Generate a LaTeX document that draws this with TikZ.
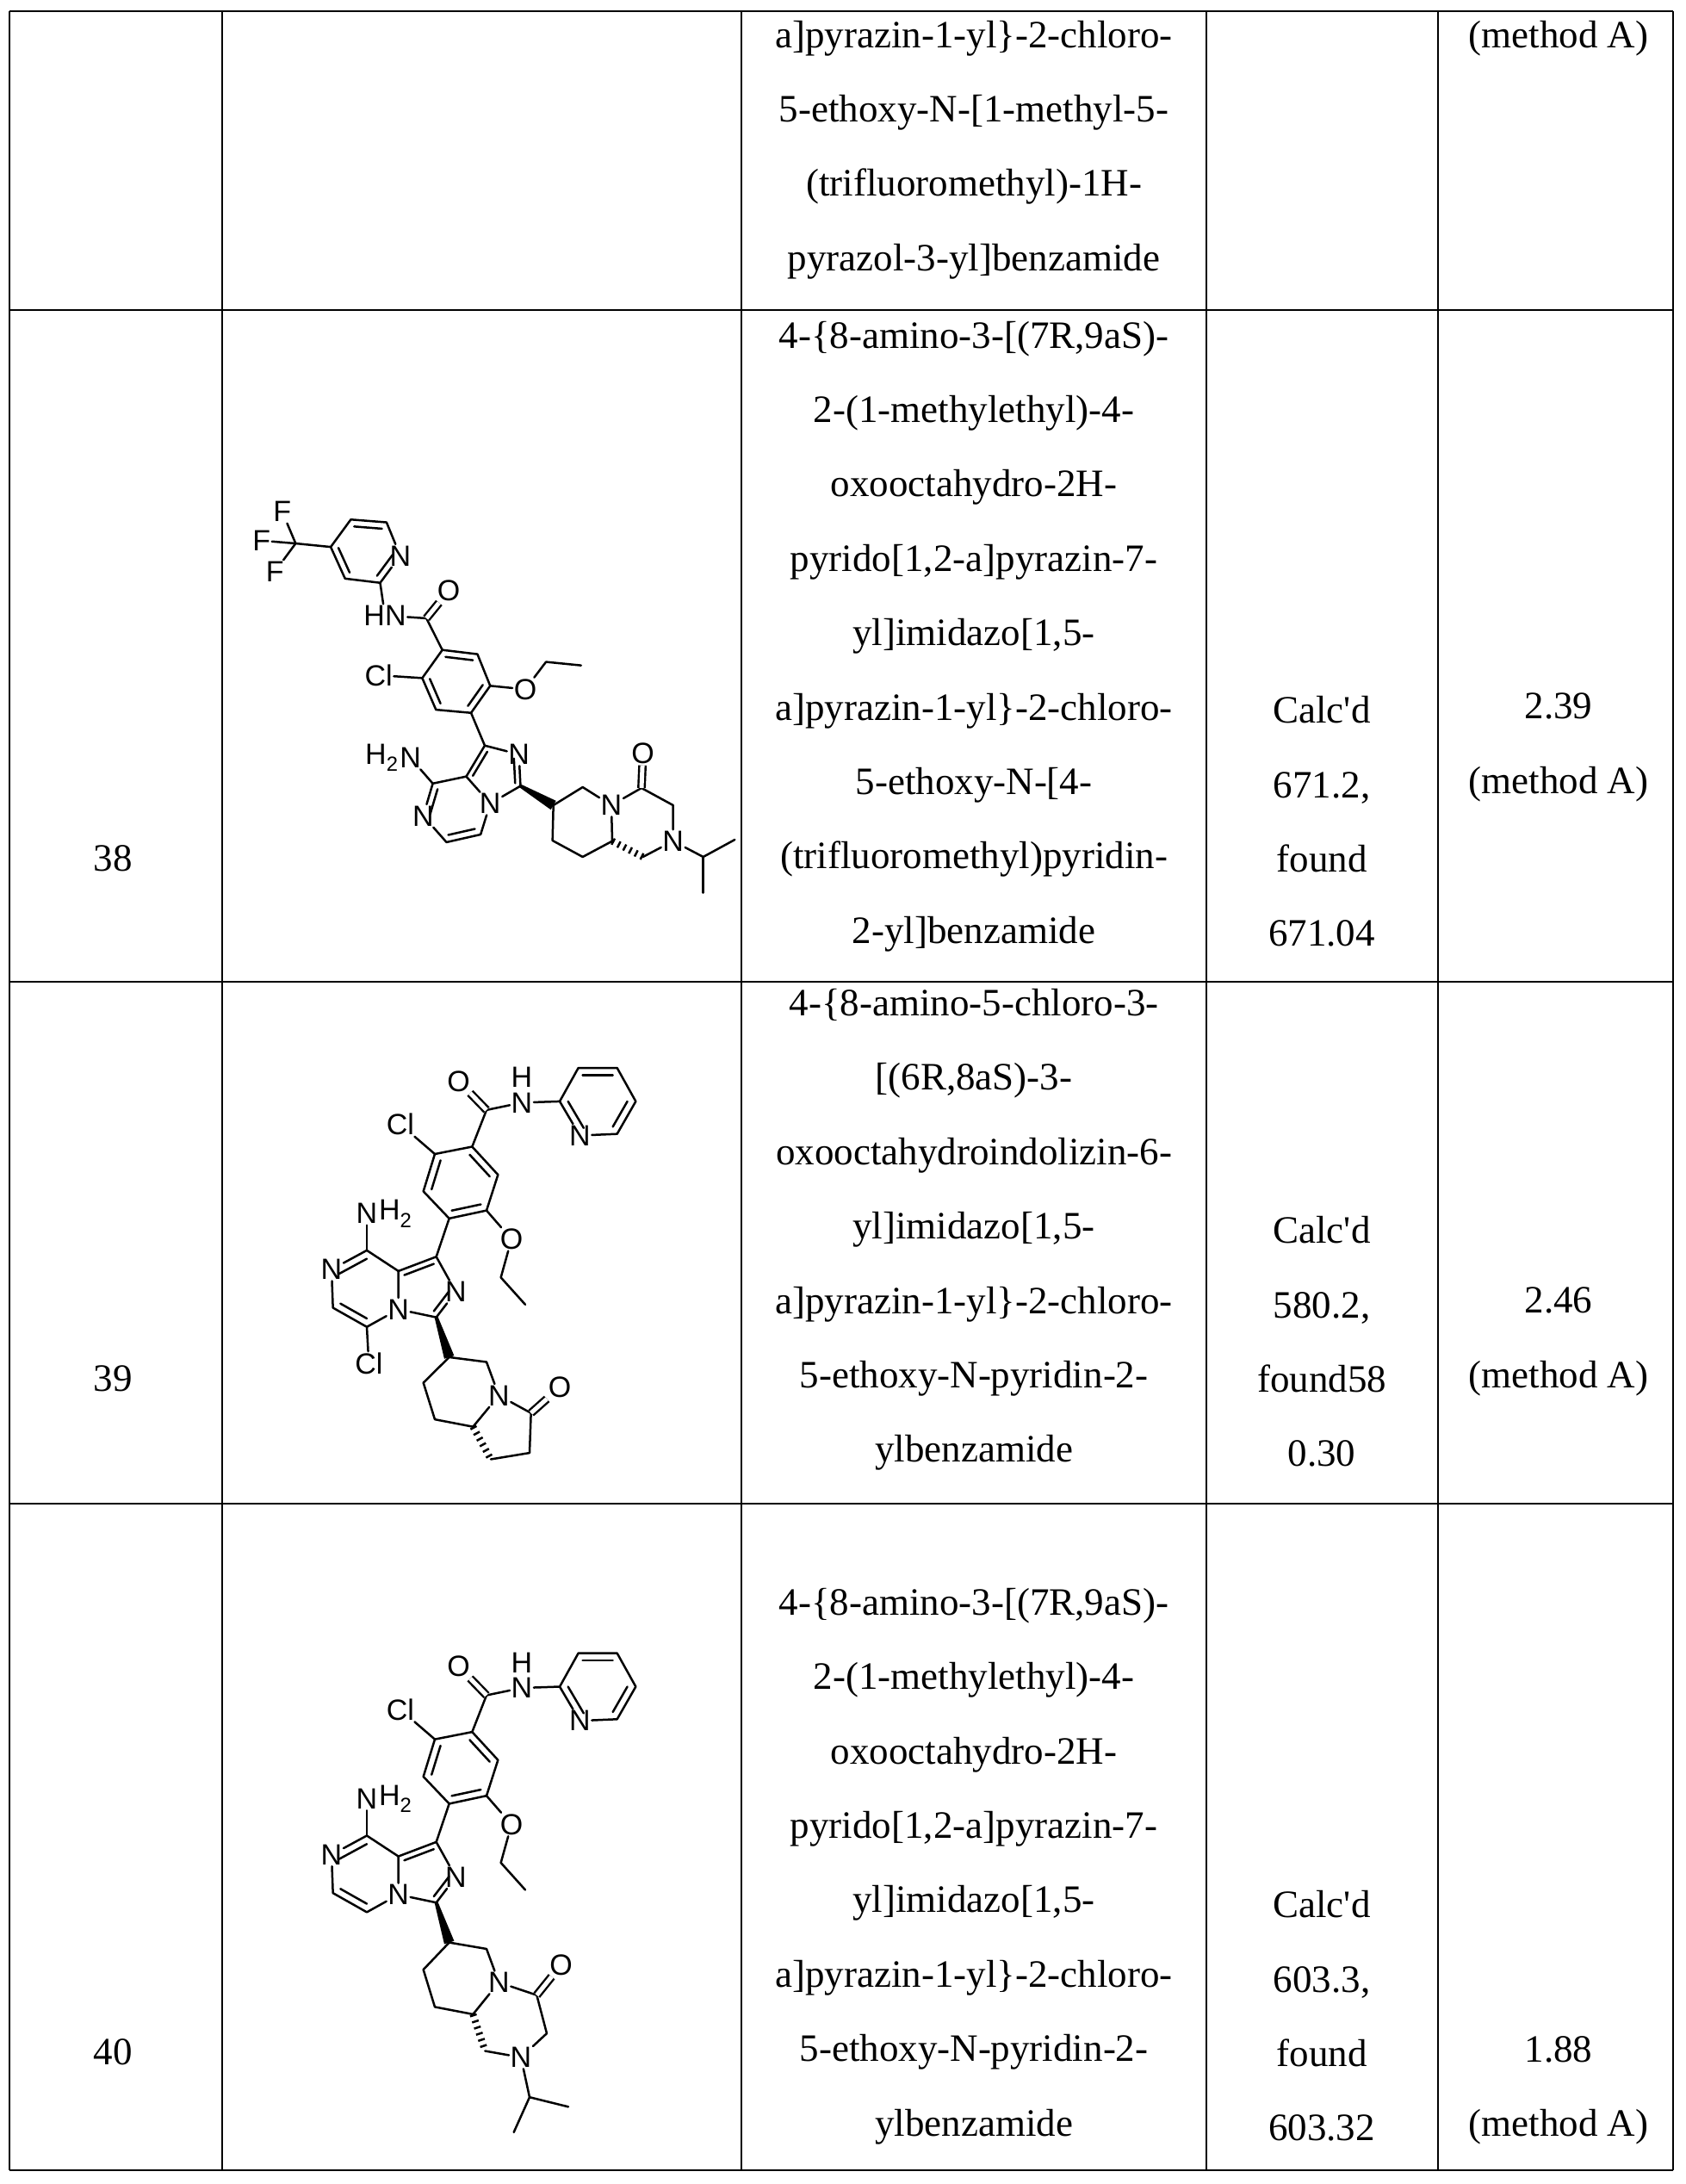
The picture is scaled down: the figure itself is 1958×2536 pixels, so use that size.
\documentclass[tikz,border=0pt]{standalone}
\usepackage{fontspec}
\setmainfont{Liberation Serif}
\newfontfamily\atomfont{Liberation Sans}
\usetikzlibrary{calc}

\tikzset{
  bond/.style={line width=2.5pt, line cap=round, line join=round},
  atom/.style={font=\fontsize{34}{34}\selectfont\atomfont, inner sep=1.5pt},
  dbl/.style={double, double distance=5pt, line width=2.4pt},
  cell/.style={font=\fontsize{45}{86.4}\selectfont, align=center},
  grid/.style={line width=2.6pt}
}
\newcommand\apos{\textquotesingle}
% inner line of a ring double bond
\newcommand\inb[3]{\draw[bond] ($(#1)!0.22!(#3)$) -- ($(#2)!0.22!(#3)$);}
\newcommand\wedgebond[2]{\fill ($(#1)!2pt!90:(#2)$) -- ($(#2)!6pt!-90:(#1)$) -- ($(#2)!6pt!90:(#1)$) -- ($(#1)!2pt!-90:(#2)$) -- cycle;}
% common part of 39 and 40
\newcommand\benzcore[1]{
  \coordinate (#1q1) at (990,348); \coordinate (#1q2) at (1055,243);
  \coordinate (#1q3) at (1190,243); \coordinate (#1q4) at (1255,348);
  \coordinate (#1q5) at (1190,450); \node[atom] (#1qn) at (1060,455) {N};
  \coordinate (#1qc) at (1122,348);
  \node[atom] (#1nh) at (858,352) {N}; \node[atom] at (858,272) {H};
  \coordinate (#1co) at (735,375); \node[atom] (#1o) at (638,285) {O};
  \coordinate (#1b1) at (685,490); \coordinate (#1b2) at (775,578);
  \coordinate (#1b3) at (735,690); \coordinate (#1b4) at (605,715);
  \coordinate (#1b5) at (515,630); \coordinate (#1b6) at (555,513);
  \coordinate (#1bc) at (645,603);
  \node[atom] (#1cl) at (435,420) {Cl};
  \node[atom] (#1oe) at (822,780) {O};
  \coordinate (#1e1) at (785,900); \coordinate (#1e2) at (870,985);
  \coordinate (#1c1) at (560,835); \node[atom] (#1n2) at (628,945) {N};
  \coordinate (#1c3) at (560,1025); \node[atom] (#1n4) at (428,1000) {N};
  \coordinate (#1c8a) at (428,880); \coordinate (#1ic) at (521,937);
  \coordinate (#1c8) at (318,815); \node[atom] (#1n7) at (195,875) {N};
  \coordinate (#1c6) at (200,995); \coordinate (#1c5) at (318,1055);
  \coordinate (#1pc) at (318,935);
  \node[atom] (#1nh2) at (318,700) {N};
  \node[atom, anchor=west, inner sep=0pt] at (#1nh2.east) {H\textsubscript{2}};
  \draw[bond] (#1nh) -- (#1q1) -- (#1q2) -- (#1q3) -- (#1q4) -- (#1q5) -- (#1qn) -- (#1q1);
  \inb{#1q2}{#1q3}{#1qc} \inb{#1q4}{#1q5}{#1qc} \inb{#1q1}{#1qn}{#1qc}
  \draw[bond] (#1nh) -- (#1co) -- (#1b1);
  \draw[dbl] (#1co) -- (#1o);
  \draw[bond] (#1b1) -- (#1b2) -- (#1b3) -- (#1b4) -- (#1b5) -- (#1b6) -- cycle;
  \inb{#1b1}{#1b2}{#1bc} \inb{#1b3}{#1b4}{#1bc} \inb{#1b5}{#1b6}{#1bc}
  \draw[bond] (#1b6) -- (#1cl);
  \draw[bond] (#1b3) -- (#1oe) -- (#1e1) -- (#1e2);
  \draw[bond] (#1b4) -- (#1c1) -- (#1n2) -- (#1c3) -- (#1n4) -- (#1c8a) -- (#1c1);
  \inb{#1c1}{#1c8a}{#1ic} \inb{#1n2}{#1c3}{#1ic}
  \draw[bond] (#1c8a) -- (#1c8) -- (#1n7) -- (#1c6) -- (#1c5) -- (#1n4);
  \inb{#1c8}{#1n7}{#1pc} \inb{#1c6}{#1c5}{#1pc}
  \draw[bond] (#1c8) -- (#1nh2);
}

\begin{document}
\begin{tikzpicture}[x=1pt, y=-1pt]
	\useasboundingbox (0,0) rectangle (1958,2536);
	
	% table rules
	\foreach \x in {11,258,861,1401,1670,1943}
		\draw[grid] (\x,13) -- (\x,2520);
	\foreach \y in {13,360,1140,1746,2520}
		\draw[grid] (11,\y) -- (1943,\y);
	
	% row carried over
	\node[cell] (name0) at (1131,174) {a]pyrazin-1-yl\}-2-chloro-\\5-ethoxy-N-[1-methyl-5-\\(trifluoromethyl)-1H-\\pyrazol-3-yl]benzamide};
	\node[cell] (rt0) at (1810,45) {(method A)};
	
	% row 38
	\node[cell] (no38) at (131,997) {38};
	\node[cell] (name38) at (1131,739) {4-\{8-amino-3-[(7R,9aS)-\\2-(1-methylethyl)-4-\\oxooctahydro-2H-\\pyrido[1,2-a]pyrazin-7-\\yl]imidazo[1,5-\\a]pyrazin-1-yl\}-2-chloro-\\5-ethoxy-N-[4-\\(trifluoromethyl)pyridin-\\2-yl]benzamide};
	\node[cell] (ms38) at (1535,954) {Calc\apos d\\671.2,\\found\\671.04};
	\node[cell] (rt38) at (1810,868) {2.39\\(method A)};
	
	% row 39
	\node[cell] (no39) at (131,1601) {39};
	\node[cell] (name39) at (1131,1428) {4-\{8-amino-5-chloro-3-\\{[}(6R,8aS)-3-\\oxooctahydroindolizin-6-\\yl]imidazo[1,5-\\a]pyrazin-1-yl\}-2-chloro-\\5-ethoxy-N-pyridin-2-\\ylbenzamide};
	\node[cell] (ms39) at (1535,1558) {Calc\apos d\\580.2,\\found58\\0.30};
	\node[cell] (rt39) at (1810,1558) {2.46\\(method A)};
	
	% row 40
	\node[cell] (no40) at (131,2383) {40};
	\node[cell] (name40) at (1131,2167) {4-\{8-amino-3-[(7R,9aS)-\\2-(1-methylethyl)-4-\\oxooctahydro-2H-\\pyrido[1,2-a]pyrazin-7-\\yl]imidazo[1,5-\\a]pyrazin-1-yl\}-2-chloro-\\5-ethoxy-N-pyridin-2-\\ylbenzamide};
	\node[cell] (ms40) at (1535,2341) {Calc\apos d\\603.3,\\found\\603.32};
	\node[cell] (rt40) at (1810,2427) {1.88\\(method A)};
	
	% structure 38
	\begin{scope}[shift={(260,380)}, x=0.37037pt, y=-0.40816pt]
		\node[atom] (af1) at (183,525) {F};
		\node[atom] (af2) at (118,607) {F};
		\node[atom] (af3) at (160,695) {F};
		\coordinate (acf) at (225,615);
		\coordinate (aq1) at (335,625); \coordinate (aq2) at (398,547);
		\coordinate (aq3) at (510,555); \node[atom] (aqn) at (553,650) {N};
		\coordinate (aq5) at (490,727); \coordinate (aq6) at (380,715);
		\coordinate (aqc) at (445,637);
		\node[atom] (anh) at (505,820) {HN};
		\coordinate (aco) at (635,828); \node[atom] (ao) at (705,750) {O};
		\coordinate (ab1) at (685,918); \coordinate (ab2) at (795,930);
		\coordinate (ab3) at (835,1020); \coordinate (ab4) at (775,1097);
		\coordinate (ab5) at (665,1088); \coordinate (ab6) at (622,998);
		\coordinate (abc) at (730,1008);
		\node[atom] (acl) at (485,990) {Cl};
		\node[atom] (aoe) at (945,1030) {O};
		\coordinate (ae1) at (1010,952); \coordinate (ae2) at (1120,962);
		\coordinate (ac1) at (818,1190); \node[atom] (an2) at (925,1215) {N};
		\coordinate (ac3) at (930,1305); \node[atom] (an4) at (835,1355) {N};
		\coordinate (ac8a) at (760,1278); \coordinate (aic) at (854,1269);
		\coordinate (ac8) at (655,1298); \node[atom] (an7) at (625,1390) {N};
		\coordinate (ac6) at (698,1465); \coordinate (ac5) at (805,1443);
		\coordinate (apc) at (723,1371);
		\node[atom] (anh2) at (585,1225) {N};
		\node[atom, anchor=east, inner sep=0pt] at (anh2.west) {H\textsubscript{2}};
		\draw[bond] (af1) -- (acf); \draw[bond] (af2) -- (acf); \draw[bond] (af3) -- (acf);
		\draw[bond] (acf) -- (aq1) -- (aq2) -- (aq3) -- (aqn) -- (aq5) -- (aq6) -- (aq1);
		\inb{aq2}{aq3}{aqc} \inb{aqn}{aq5}{aqc} \inb{aq6}{aq1}{aqc}
		\draw[bond] (aq5) -- (anh) -- (aco) -- (ab1);
		\draw[dbl] (aco) -- (ao);
		\draw[bond] (ab1) -- (ab2) -- (ab3) -- (ab4) -- (ab5) -- (ab6) -- cycle;
		\inb{ab1}{ab2}{abc} \inb{ab3}{ab4}{abc} \inb{ab5}{ab6}{abc}
		\draw[bond] (ab6) -- (acl);
		\draw[bond] (ab3) -- (aoe) -- (ae1) -- (ae2);
		\draw[bond] (ab4) -- (ac1) -- (an2) -- (ac3) -- (an4) -- (ac8a) -- (ac1);
		\inb{ac1}{ac8a}{aic} \inb{an2}{ac3}{aic}
		\draw[bond] (ac8a) -- (ac8) -- (an7) -- (ac6) -- (ac5) -- (an4);
		\inb{ac8}{an7}{apc} \inb{ac6}{ac5}{apc}
		\draw[bond] (ac8) -- (anh2);
	\end{scope}
	\begin{scope}[shift={(600,850)}, x=0.33333pt, y=-0.33333pt]
		\coordinate (ap1) at (128,255); \coordinate (ap2) at (230,192);
		\node[atom] (apn) at (330,255) {N};
		\coordinate (ap4) at (333,380); \coordinate (ap5) at (230,435);
		\coordinate (ap6) at (125,378);
		\coordinate (alc) at (435,195); \node[atom] (alo) at (440,75) {O};
		\coordinate (alm) at (545,255);
		\node[atom] (aln) at (545,380) {N};
		\coordinate (alh) at (440,435);
		\coordinate (aip) at (650,435); \coordinate (aip1) at (760,375);
		\coordinate (aip2) at (650,560);
		\draw[bond] (ap4) -- (ap5) -- (ap6) -- (ap1) -- (ap2) -- (apn) -- (ap4);
		\draw[bond] (apn) -- (alc) -- (alm) -- (aln) -- (alh);
		\draw[dbl] (alc) -- (alo);
		\draw[line width=8pt, dash pattern=on 2.5pt off 5pt] (ap4) -- (alh);
		\draw[bond] (aln) -- (aip) -- (aip1);
		\draw[bond] (aip) -- (aip2);
	\end{scope}
	\wedgebond{ac3}{ap1}
	
	% structure 39
	\begin{scope}[shift={(320,1150)}, x=0.33333pt, y=-0.37037pt]
		\benzcore{b}
		\node[atom] (bcl5) at (325,1170) {Cl};
		\draw[bond] (bc5) -- (bcl5);
		\coordinate (bp1) at (605,1150); \coordinate (bp2) at (735,1165);
		\node[atom] (bpn) at (778,1270) {N};
		\coordinate (bp4) at (688,1368); \coordinate (bp5) at (555,1345);
		\coordinate (bp6) at (515,1230);
		\coordinate (blc) at (890,1325); \node[atom] (blo) at (990,1245) {O};
		\coordinate (blm) at (885,1450); \coordinate (blh) at (750,1470);
		\draw[bond] (bp4) -- (bp5) -- (bp6) -- (bp1) -- (bp2) -- (bpn) -- (bp4);
		\draw[bond] (bpn) -- (blc) -- (blm) -- (blh);
		\draw[dbl] (blc) -- (blo);
		\draw[line width=8pt, dash pattern=on 2.5pt off 5pt] (bp4) -- (blh);
		\wedgebond{bc3}{bp1}
	\end{scope}
	
	% structure 40
	\begin{scope}[shift={(320,1829.6)}, x=0.33333pt, y=-0.37037pt]
		\benzcore{c}
	\end{scope}
	\begin{scope}[shift={(320,1900)}, x=0.33333pt, y=-0.37037pt]
		\coordinate (cp1) at (605,960); \coordinate (cp2) at (735,980);
		\node[atom] (cpn) at (778,1085) {N};
		\coordinate (cp4) at (688,1185); \coordinate (cp5) at (555,1162);
		\coordinate (cp6) at (515,1045);
		\coordinate (clc) at (910,1125); \node[atom] (clo) at (995,1030) {O};
		\coordinate (clm) at (945,1245);
		\node[atom] (cln) at (855,1320) {N};
		\coordinate (clh) at (730,1300);
		\coordinate (cip) at (885,1445); \coordinate (cip1) at (1020,1475);
		\coordinate (cip2) at (830,1555);
		\draw[bond] (cp4) -- (cp5) -- (cp6) -- (cp1) -- (cp2) -- (cpn) -- (cp4);
		\draw[bond] (cpn) -- (clc) -- (clm) -- (cln) -- (clh);
		\draw[dbl] (clc) -- (clo);
		\draw[line width=8pt, dash pattern=on 2.5pt off 5pt] (cp4) -- (clh);
		\draw[bond] (cln) -- (cip) -- (cip1);
		\draw[bond] (cip) -- (cip2);
	\end{scope}
	\wedgebond{cc3}{cp1}
	
\end{tikzpicture}
\end{document}
